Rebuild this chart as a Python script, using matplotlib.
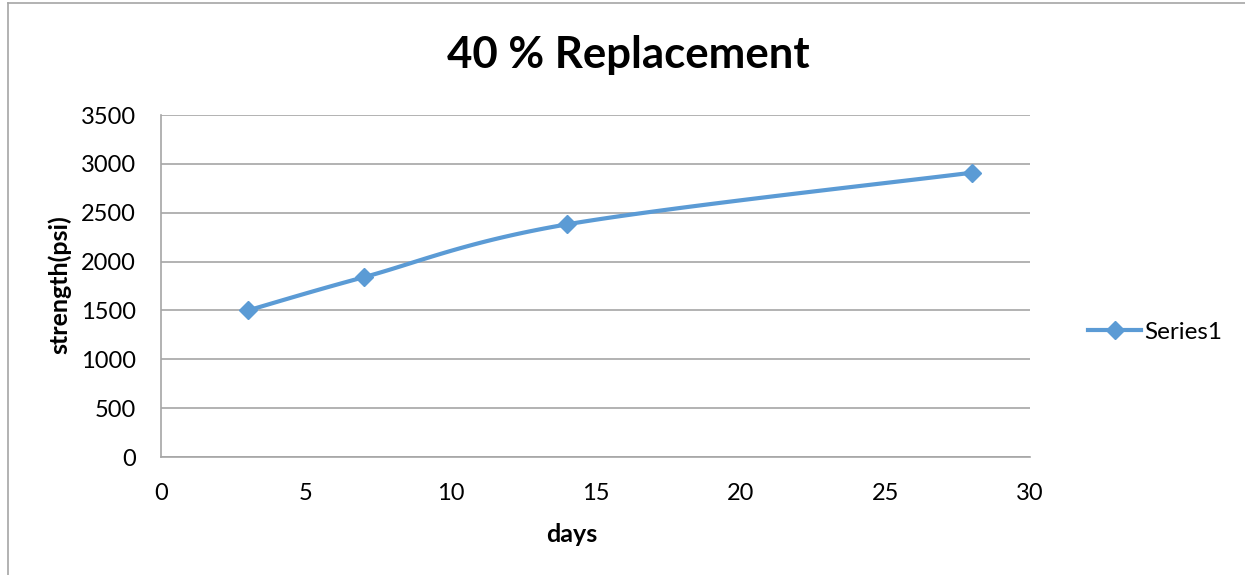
import matplotlib.pyplot as plt
import numpy as np
from matplotlib.lines import Line2D

days = [3, 7, 14, 28]
strength = [1500, 1840, 2380, 2910]
series_name = "Series1"

LINE_COLOR = "#5B9BD5"
GRID_COLOR = "#A6A6A6"


def smooth_curve(x, y, steps=40):
    # Catmull-Rom style smoothing through every point
    x = np.asarray(x, dtype=float)
    y = np.asarray(y, dtype=float)
    px = np.concatenate([[x[0]], x, [x[-1]]])
    py = np.concatenate([[y[0]], y, [y[-1]]])
    xs, ys = [], []
    t = np.linspace(0, 1, steps)
    for i in range(1, len(px) - 2):
        p0x, p1x, p2x, p3x = px[i - 1:i + 3]
        p0y, p1y, p2y, p3y = py[i - 1:i + 3]
        c1x, c1y = p1x + (p2x - p0x) / 6, p1y + (p2y - p0y) / 6
        c2x, c2y = p2x - (p3x - p1x) / 6, p2y - (p3y - p1y) / 6
        bx = (1 - t) ** 3 * p1x + 3 * (1 - t) ** 2 * t * c1x + 3 * (1 - t) * t ** 2 * c2x + t ** 3 * p2x
        by = (1 - t) ** 3 * p1y + 3 * (1 - t) ** 2 * t * c1y + 3 * (1 - t) * t ** 2 * c2y + t ** 3 * p2y
        xs.extend(bx)
        ys.extend(by)
    return xs, ys


plt.rcParams["font.family"] = ["Lato", "DejaVu Sans"]

fig = plt.figure(figsize=(12.45, 5.75), dpi=100)
ax = fig.add_axes([161 / 1245, 1 - 457 / 575, (1030 - 161) / 1245, (457 - 115) / 575])

sx, sy = smooth_curve(days, strength)
ax.plot(sx, sy, color=LINE_COLOR, linewidth=3, solid_capstyle="round")
ax.plot(days, strength, linestyle="none", marker="D", markersize=9.5,
        color=LINE_COLOR)

ax.set_xlim(0, 30)
ax.set_ylim(0, 3500)
ax.set_xticks(range(0, 31, 5))
ax.set_yticks(range(0, 3501, 500))
ax.yaxis.grid(True, color=GRID_COLOR, linewidth=1.2)
ax.set_axisbelow(True)
ax.tick_params(length=0, labelsize=17)
ax.tick_params(axis="y", pad=18)
ax.tick_params(axis="x", pad=19)
for side in ("top", "right"):
    ax.spines[side].set_visible(False)
for side in ("left", "bottom"):
    ax.spines[side].set_color(GRID_COLOR)
    ax.spines[side].set_linewidth(1.2)

fig.text(572 / 1245, 1 - 535 / 575, "days", fontsize=18, fontweight="bold",
         ha="center", va="center")
fig.text(60 / 1245, 1 - 285 / 575, "strength(psi)", fontsize=18,
         fontweight="bold", ha="center", va="center", rotation=90)
fig.text(628 / 1245, 1 - 55 / 575, "40 % Replacement", fontsize=31.5,
         fontweight="bold", ha="center", va="center")

legend_handle = Line2D([], [], color=LINE_COLOR, linewidth=3, marker="D",
                       markersize=9.5)
fig.legend([legend_handle], [series_name], loc="center left",
           bbox_to_anchor=(1066 / 1245, 1 - 332 / 575), frameon=False,
           fontsize=17.5, handlelength=2.2, handletextpad=0.1)

# chart border
fig.add_artist(Line2D([8 / 1245, 8 / 1245], [0, 1 - 3 / 575],
                      transform=fig.transFigure, color=GRID_COLOR, linewidth=1.2))
fig.add_artist(Line2D([8 / 1245, 1], [1 - 3 / 575, 1 - 3 / 575],
                      transform=fig.transFigure, color=GRID_COLOR, linewidth=1.2))

fig.savefig("out.png", dpi=100)
